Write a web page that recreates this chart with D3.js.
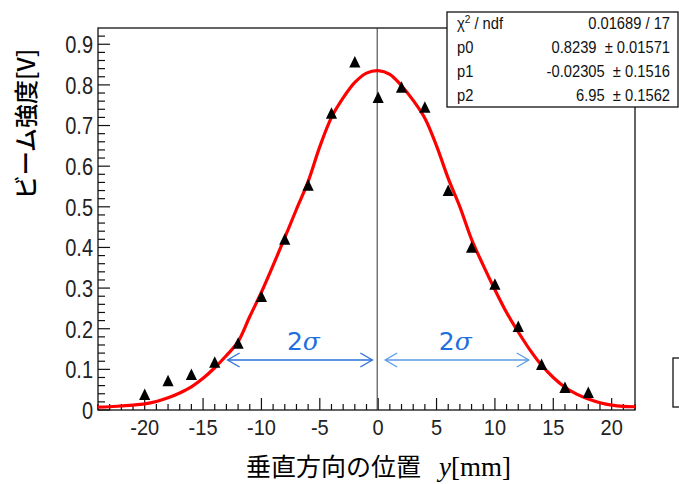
<!DOCTYPE html>
<meta charset="utf-8">
<head>
<style>
  body { margin: 0; background: #fff; }
  svg { display: block; }
  .tick-label { font-family: "Liberation Sans", Arial, sans-serif; font-size: 20px; fill: #222; }
  .stats text { font-family: "Liberation Sans", Arial, sans-serif; font-size: 16px; fill: #111; }
</style>
</head>
<body>
<script src="https://cdn.jsdelivr.net/npm/d3@7"></script>
<div id="chart"></div>
<script>

  // measured points (triangles)
  const posX = [-20, -18, -16, -14, -12, -10, -8, -6, -4, -2, 0, 2, 4, 6, 8, 10, 12, 14, 16, 18];
  const beam = [0.037, 0.071, 0.086, 0.116, 0.163, 0.278, 0.419, 0.552, 0.729, 0.855,
                0.768, 0.793, 0.744, 0.539, 0.399, 0.308, 0.204, 0.111, 0.054, 0.042];

  // fit curve
  const fitX = [-24, -23, -22, -21, -20, -19, -18, -17, -16, -15, -14, -13, -12, -11, -10, -9, -8, -7, -6, -5, -4, -3, -2, -1,
                0, 1, 2, 3, 4, 5, 6, 7, 8, 9, 10, 11, 12, 13, 14, 15, 16, 17, 18, 19, 20, 21, 22];
  const fitY = [0.007, 0.008, 0.010, 0.012, 0.015, 0.021, 0.030, 0.042, 0.057, 0.078, 0.104, 0.134, 0.168, 0.230, 0.290, 0.356, 0.424, 0.494, 0.562, 0.648, 0.720, 0.768, 0.806, 0.829,
                0.835, 0.826, 0.798, 0.762, 0.718, 0.650, 0.570, 0.500, 0.420, 0.356, 0.296, 0.240, 0.192, 0.148, 0.110, 0.080, 0.056, 0.039, 0.027, 0.018, 0.012, 0.009, 0.008];

  const xTicks = [-20, -15, -10, -5, 0, 5, 10, 15, 20];
  const yTicks = [0, 0.1, 0.2, 0.3, 0.4, 0.5, 0.6, 0.7, 0.8, 0.9];

  const statNames = ["p0", "p1", "p2"];
  const statValues = ["0.01689 / 17", "0.8239  ± 0.01571", "-0.02305  ± 0.1516", "6.95  ± 0.1562"];

  var width = 679,
      height = 484;
  var frame = {left: 98, right: 635, top: 28, bottom: 410};

  const svg = d3.select('#chart')
      .append('svg')
      .attr('width', width)
      .attr('height', height);

  const x = d3.scaleLinear().domain([-24, 22]).range([frame.left, frame.right]);
  const y = d3.scaleLinear().domain([0, 0.94]).range([frame.bottom, frame.top]);

  // frame
  svg.append('rect')
      .attr('x', frame.left).attr('y', frame.top)
      .attr('width', frame.right - frame.left)
      .attr('height', frame.bottom - frame.top)
      .attr('fill', 'none')
      .attr('stroke', '#111')
      .attr('stroke-width', 1.3);

  // ticks drawn inside the frame, ROOT style
  const xMinor = d3.range(-24, 23, 1);
  svg.append('g').selectAll('line')
      .data(xMinor)
      .enter().append('line')
      .attr('x1', d => x(d)).attr('x2', d => x(d))
      .attr('y1', frame.bottom)
      .attr('y2', d => frame.bottom - (d % 5 === 0 ? 12 : 6))
      .attr('stroke', '#111').attr('stroke-width', 1.2);

  const yMinor = d3.range(0, 47).map(i => i * 0.02);
  svg.append('g').selectAll('line')
      .data(yMinor)
      .enter().append('line')
      .attr('y1', d => y(d)).attr('y2', d => y(d))
      .attr('x1', frame.left)
      .attr('x2', (d, i) => frame.left + (i % 5 === 0 ? 12 : 7))
      .attr('stroke', '#111').attr('stroke-width', 1.2);

  svg.append('g').selectAll('text')
      .data(xTicks)
      .enter().append('text')
      .attr('class', 'tick-label')
      .attr('transform', d => 'translate(' + x(d) + ',' + (frame.bottom + 25) + ') scale(1,1.08)')
      .attr('text-anchor', 'middle')
      .text(d => d);

  svg.append('g').selectAll('text')
      .data(yTicks)
      .enter().append('text')
      .attr('class', 'tick-label')
      .attr('transform', d => 'translate(' + (frame.left - 5) + ',' + y(d) + ') scale(1,1.22)')
      .attr('dy', '0.36em')
      .attr('text-anchor', 'end')
      .text(d => d === 0 ? '0' : d.toFixed(1));

  // axis titles
  svg.append('text')
      .attr('transform', 'translate(35,124) rotate(-90)')
      .attr('text-anchor', 'middle')
      .style('font-family', '"Noto Sans CJK JP", sans-serif')
      .style('font-size', '24px')
      .style('font-weight', 500)
      .text('ビーム強度[V]');

  const xt = svg.append('text')
      .attr('x', 246)
      .attr('y', 476);
  xt.append('tspan')
      .style('font-family', '"Noto Sans CJK JP", sans-serif')
      .style('font-size', '25px')
      .text('垂直方向の位置');
  xt.append('tspan')
      .attr('dx', 18)
      .style('font-family', '"Liberation Serif", "DejaVu Serif", serif')
      .style('font-size', '27px')
      .style('font-style', 'italic')
      .text('y');
  xt.append('tspan')
      .style('font-family', '"Liberation Serif", "DejaVu Serif", serif')
      .style('font-size', '27px')
      .text('[mm]');

  // vertical line at 0
  svg.append('line')
      .attr('x1', x(0) - 1).attr('x2', x(0) - 1)
      .attr('y1', frame.top).attr('y2', frame.bottom)
      .attr('stroke', '#333').attr('stroke-width', 1);

  // fit curve
  const line = d3.line()
      .x((d, i) => x(fitX[i]))
      .y(d => y(d))
      .curve(d3.curveCatmullRom);

  svg.append('path')
      .datum(fitY)
      .attr('d', line)
      .attr('fill', 'none')
      .attr('stroke', '#ff0000')
      .attr('stroke-width', 3.2);

  // triangles
  const tri = 'M0,-6.5L5.6,5L-5.6,5Z';
  svg.append('g').selectAll('path')
      .data(beam)
      .enter().append('path')
      .attr('d', tri)
      .attr('transform', (d, i) => 'translate(' + x(posX[i]) + ',' + y(d) + ')')
      .attr('fill', '#000');

  // 2 sigma arrows
  const arrows = [
    {from: -12.9, to: -0.5, color: '#2a6fdb', label: -6.4},
    {from: 0.6, to: 12.9, color: '#5b9ae6', label: 6.6}
  ];
  const ay = y(0.123);
  arrows.forEach(function(a) {
    const g = svg.append('g')
        .attr('fill', 'none')
        .attr('stroke', a.color)
        .attr('stroke-width', 1.3);
    g.append('line')
        .attr('x1', x(a.from)).attr('x2', x(a.to))
        .attr('y1', ay).attr('y2', ay);
    g.append('path')
        .attr('d', 'M' + (x(a.from) + 12) + ',' + (ay - 7) + 'L' + x(a.from) + ',' + ay + 'L' + (x(a.from) + 12) + ',' + (ay + 7));
    g.append('path')
        .attr('d', 'M' + (x(a.to) - 12) + ',' + (ay - 7) + 'L' + x(a.to) + ',' + ay + 'L' + (x(a.to) - 12) + ',' + (ay + 7));
    const t = svg.append('text')
        .attr('x', x(a.label))
        .attr('y', y(0.148))
        .attr('text-anchor', 'middle')
        .attr('fill', '#1f6fde')
        .style('font-size', '25px');
    t.append('tspan')
        .style('font-family', '"DejaVu Sans", sans-serif')
        .text('2');
    t.append('tspan')
        .style('font-family', '"DejaVu Serif", serif')
        .style('font-style', 'italic')
        .text('σ');
  });

  // stats box
  const stats = svg.append('g').attr('class', 'stats');
  stats.append('rect')
      .attr('x', 447).attr('y', 12)
      .attr('width', 231).attr('height', 95)
      .attr('fill', '#fff')
      .attr('stroke', '#111')
      .attr('stroke-width', 1.3);
  const chi = stats.append('text')
      .attr('transform', 'translate(457,29) scale(0.92,1)');
  chi.append('tspan').text('χ');
  chi.append('tspan').attr('dy', -6).style('font-size', '11px').text('2');
  chi.append('tspan').attr('dy', 6).text(' / ndf');
  stats.selectAll('text.name')
      .data(statNames)
      .enter().append('text')
      .attr('class', 'name')
      .attr('transform', (d, i) => 'translate(457,' + (53 + i * 24) + ') scale(0.92,1)')
      .text(d => d);
  stats.selectAll('text.val')
      .data(statValues)
      .enter().append('text')
      .attr('class', 'val')
      .attr('transform', (d, i) => 'translate(670,' + (29 + i * 24) + ') scale(0.92,1)')
      .attr('text-anchor', 'end')
      .style('white-space', 'pre')
      .text(d => d);

  // partial box at the right edge
  svg.append('rect')
      .attr('x', 673).attr('y', 358)
      .attr('width', 12).attr('height', 49)
      .attr('fill', 'none')
      .attr('stroke', '#111')
      .attr('stroke-width', 1.3);

</script>
</body>
